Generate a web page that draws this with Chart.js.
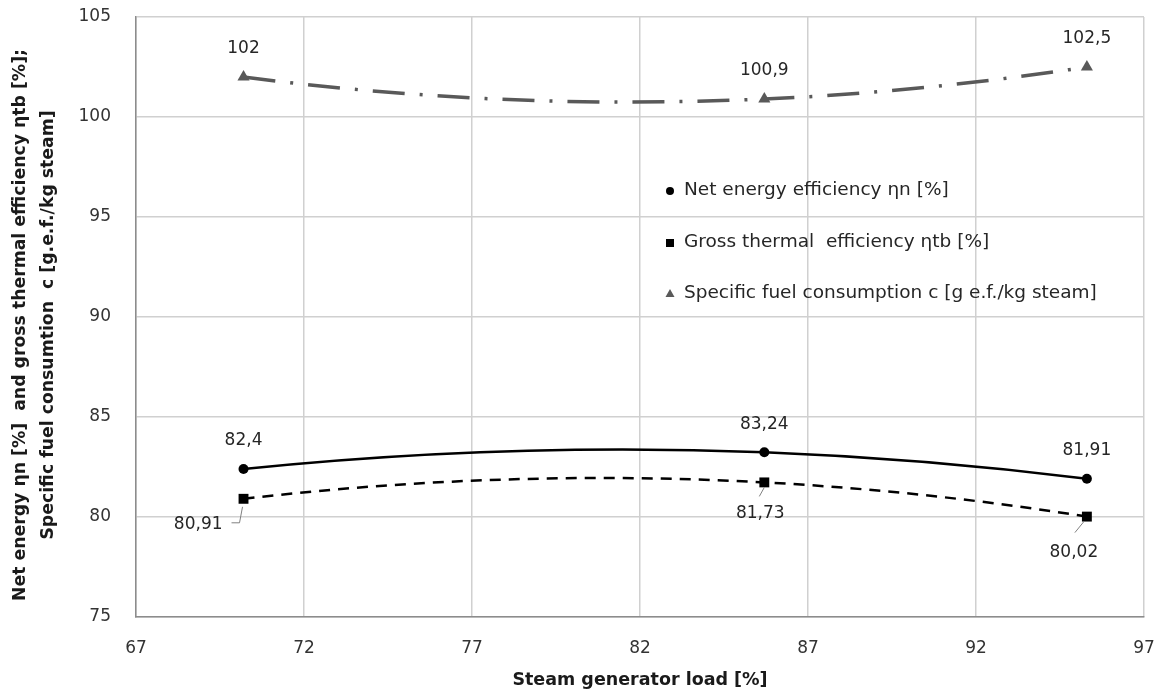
<!DOCTYPE html>
<html>
<head>
<meta charset="utf-8">
<script src="https://cdn.jsdelivr.net/npm/chart.js@4.4.1/dist/chart.umd.min.js"></script>
<style>
  html, body { margin: 0; padding: 0; background: #fff; }
  #wrap { width: 1163px; height: 695px; }
</style>
</head>
<body>
<div id="wrap"><canvas id="chart" width="1163" height="695"></canvas></div>
<script>
const loads = [70.2, 85.7, 95.3];
const netEff = [82.4, 83.24, 81.91];
const grossEff = [80.91, 81.73, 80.02];
const fuelCons = [102, 100.9, 102.5];
const xTicks = [67, 72, 77, 82, 87, 92, 97];
const yTicks = [75, 80, 85, 90, 95, 100, 105];
const seriesNames = [
  'Net energy efficiency ηn [%]',
  'Gross thermal  efficiency ηtb [%]',
  'Specific fuel consumption c [g e.f./kg steam]'
];
const xTitle = 'Steam generator load [%]';
const yTitle = [
  'Net energy ηn [%]  and gross thermal efficiency ηtb [%];',
  'Specific fuel consumtion  c [g.e.f./kg steam]'
];

const fmt = v => String(v).replace('.', ',');
const toPoints = ys => ys.map((y, i) => ({ x: loads[i], y }));

const labelFont = '17px "DejaVu Sans"';
const textColor = '#262626';

// Excel-like smoothing: tangents from the parabola through neighbouring points
const excelSmooth = {
  id: 'excelSmooth',
  beforeDatasetDraw(chart, args) {
    const meta = args.meta;
    meta.dataset.updateControlPoints(chart.chartArea);
    const pts = meta.data;
    const n = pts.length;
    if (n < 3) return;
    const h = [], s = [];
    for (let i = 0; i < n - 1; i++) {
      h.push(pts[i + 1].x - pts[i].x);
      s.push((pts[i + 1].y - pts[i].y) / h[i]);
    }
    const m = new Array(n);
    for (let i = 1; i < n - 1; i++) {
      m[i] = (h[i] * s[i - 1] + h[i - 1] * s[i]) / (h[i - 1] + h[i]);
    }
    m[0] = 2 * s[0] - m[1];
    m[n - 1] = 2 * s[n - 2] - m[n - 2];
    for (let i = 0; i < n; i++) {
      const p = pts[i];
      const hb = i > 0 ? h[i - 1] / 3 : 0;
      const ha = i < n - 1 ? h[i] / 3 : 0;
      p.cp1x = p.x - hb; p.cp1y = p.y - m[i] * hb;
      p.cp2x = p.x + ha; p.cp2y = p.y + m[i] * ha;
    }
  }
};

// label offsets relative to the marker; gross labels get a leader line
const grossLabelPos = [
  { dx: -21, dy: 26, align: 'right', leader: [[-12, 24], [-4, 24], [-1, 8]] },
  { dx: -4, dy: 31, align: 'center', leader: [[-5, 14], [0, 5]] },
  { dx: -13, dy: 36, align: 'center', leader: [[-12, 16], [-3, 5]] }
];

const dataLabels = {
  id: 'dataLabels',
  afterDatasetsDraw(chart) {
    const ctx = chart.ctx;
    ctx.save();
    ctx.font = labelFont;
    ctx.fillStyle = textColor;
    ctx.textBaseline = 'middle';
    chart.data.datasets.forEach((ds, di) => {
      const meta = chart.getDatasetMeta(di);
      meta.data.forEach((pt, i) => {
        const txt = fmt(ds.data[i].y);
        if (di === 1) {
          const p = grossLabelPos[i];
          ctx.strokeStyle = '#808080';
          ctx.lineWidth = 1;
          ctx.beginPath();
          p.leader.forEach(([lx, ly], k) => {
            if (k === 0) ctx.moveTo(pt.x + lx, pt.y + ly);
            else ctx.lineTo(pt.x + lx, pt.y + ly);
          });
          ctx.stroke();
          ctx.textAlign = p.align;
          ctx.fillText(txt, pt.x + p.dx, pt.y + p.dy);
        } else {
          ctx.textAlign = 'center';
          ctx.fillText(txt, pt.x, pt.y - 28);
        }
      });
    });
    ctx.restore();
  }
};

const insideLegend = {
  id: 'insideLegend',
  afterDraw(chart) {
    const ctx = chart.ctx;
    const rows = [190, 242, 293];
    const mx = 670, tx = 684;
    ctx.save();
    ctx.font = '18.5px "DejaVu Sans"';
    ctx.textAlign = 'left';
    ctx.textBaseline = 'middle';
    chart.data.datasets.forEach((ds, i) => {
      const y = rows[i];
      ctx.fillStyle = ds.pointBackgroundColor;
      ctx.beginPath();
      if (i === 0) {
        ctx.arc(mx, y + 1, 4, 0, Math.PI * 2);
      } else if (i === 1) {
        ctx.rect(mx - 4, y - 3, 8, 8);
      } else {
        ctx.moveTo(mx, y - 4);
        ctx.lineTo(mx + 4.5, y + 4);
        ctx.lineTo(mx - 4.5, y + 4);
        ctx.closePath();
      }
      ctx.fill();
      ctx.fillStyle = textColor;
      ctx.fillText(ds.label, tx, y);
    });
    ctx.restore();
  }
};

const axisTitles = {
  id: 'axisTitles',
  afterDraw(chart) {
    const ctx = chart.ctx;
    const a = chart.chartArea;
    ctx.save();
    ctx.fillStyle = '#1a1a1a';
    ctx.textAlign = 'center';
    ctx.textBaseline = 'middle';
    ctx.font = 'bold 17.5px "DejaVu Sans"';
    ctx.fillText(xTitle, (a.left + a.right) / 2, 680);
    ctx.translate(0, 325);
    ctx.rotate(-Math.PI / 2);
    ctx.font = 'bold 17.3px "DejaVu Sans"';
    ctx.fillText(yTitle[0], 0, 21);
    ctx.fillText(yTitle[1], 0, 49);
    ctx.restore();
  }
};

new Chart(document.getElementById('chart'), {
  type: 'line',
  data: {
    datasets: [
      {
        label: seriesNames[0],
        data: toPoints(netEff),
        borderColor: '#000',
        borderWidth: 2.5,
        pointStyle: 'circle',
        pointRadius: 5,
        pointBackgroundColor: '#000',
        pointBorderWidth: 0,
        tension: 0.4
      },
      {
        label: seriesNames[1],
        data: toPoints(grossEff),
        borderColor: '#000',
        borderWidth: 2.5,
        borderDash: [11, 8],
        pointStyle: 'rect',
        pointRadius: 7,
        pointBackgroundColor: '#000',
        pointBorderWidth: 0,
        tension: 0.4
      },
      {
        label: seriesNames[2],
        data: toPoints(fuelCons),
        borderColor: '#595959',
        borderWidth: 3.5,
        borderDash: [32, 15, 3, 15],
        pointStyle: 'triangle',
        pointRadius: 7,
        pointBackgroundColor: '#595959',
        pointBorderWidth: 0,
        tension: 0.4
      }
    ]
  },
  options: {
    responsive: false,
    animation: false,
    layout: { padding: { top: 17, right: 19, left: 0, bottom: 0 } },
    plugins: {
      legend: { display: false },
      tooltip: { enabled: false }
    },
    scales: {
      x: {
        type: 'linear',
        min: 67,
        max: 97,
        afterBuildTicks: s => { s.ticks = xTicks.map(v => ({ value: v })); },
        afterFit: s => {
          s.height = 78;
          s.paddingLeft = 0; s.paddingRight = 0;
        },
        grid: { color: '#d0d0d0', lineWidth: 1.5, drawTicks: false },
        border: { color: '#8c8c8c', width: 1.5 },
        ticks: {
          padding: 21,
          color: '#333',
          font: { family: '"DejaVu Sans"', size: 17 }
        }
      },
      y: {
        min: 75,
        max: 105,
        afterBuildTicks: s => { s.ticks = yTicks.map(v => ({ value: v })); },
        afterFit: s => {
          s.width = 136;
          s.paddingTop = 0; s.paddingBottom = 0;
        },
        grid: { color: '#d0d0d0', lineWidth: 1.5, drawTicks: false },
        border: { color: '#8c8c8c', width: 1.5 },
        ticks: {
          padding: 25,
          color: '#333',
          font: { family: '"DejaVu Sans"', size: 17 }
        }
      }
    }
  },
  plugins: [excelSmooth, dataLabels, insideLegend, axisTitles]
});
</script>
</body>
</html>
